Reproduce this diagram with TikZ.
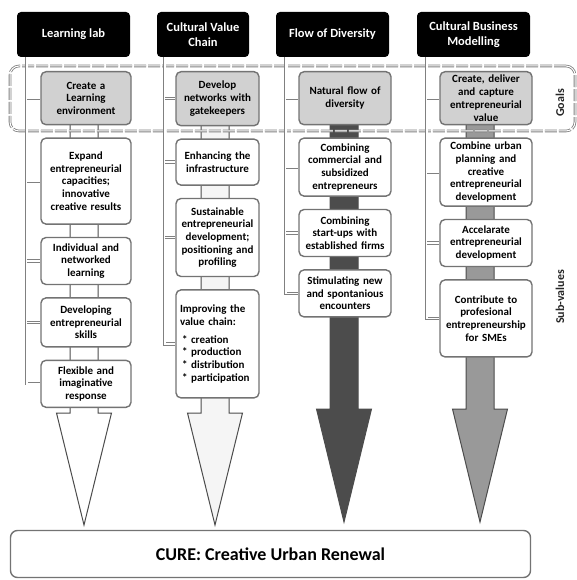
\documentclass[tikz,border=0pt]{standalone}
\usepackage{fontspec}
\setmainfont{Carlito}
\usetikzlibrary{positioning}

\begin{document}
\begin{tikzpicture}[
  x=1pt, y=1pt, node distance=12pt,
  font=\fontsize{11}{12.7}\selectfont\bfseries,
  header/.style ={rectangle, rounded corners=4pt, fill=black, text=white, align=center,
                  minimum height=45pt, font=\fontsize{12.5}{14.5}\selectfont\bfseries},
  goalbox/.style={rectangle, rounded corners=5pt, draw=black!55, line width=1.4pt, fill=black!18,
                  align=center, inner xsep=2pt, inner ysep=1pt},
  subbox/.style ={goalbox, fill=white},
  colA/.style={text width=86pt}, colB/.style={text width=79pt}, colC/.style={text width=88pt},
  spine/.style  ={draw=black!50, double=white, double distance=1.4pt, line width=0.9pt},
  frame/.style  ={rectangle, rounded corners=9pt, draw=black!50, double=white, double distance=1pt,
                  line width=0.8pt, dash pattern=on 12pt off 2pt},
  flow/.style   ={draw=black!70, line width=1pt, line join=miter},
  side/.style   ={rotate=90, font=\fontsize{12}{14}\selectfont\bfseries, text=black!85},
]
  \useasboundingbox (0,0) rectangle (576,-580);

  % big arrows behind the columns
  \foreach \c/\hy/\ty/\col in {84/413/525/white, 215/413/525/black!4,
                               344/409/522/black!70, 480/409/522/black!40}
    \draw[flow, fill=\col] (\c-14,-120) -- (\c-14,-\hy) -- (\c-27.5,-\hy) -- (\c,-\ty)
                          -- (\c+27.5,-\hy) -- (\c+14,-\hy) -- (\c+14,-120) -- cycle;

  \node[frame, minimum width=565pt, minimum height=65pt] (goals) at (292.5,-98.5) {};
  \node[side] (lgoals) at (560,-103) {Goals};
  \node[side] (lsub)   at (560,-297) {Sub-values};

  % headers
  \node[header, minimum width=113pt] (h1) at (73.5,-34.5)  {Learning lab};
  \node[header, minimum width=92pt]  (h2) at (203,-34.5)   {Cultural Value\\Chain};
  \node[header, minimum width=113pt] (h3) at (332.5,-34.5) {Flow of Diversity};
  \node[header, minimum width=113pt] (h4) at (473.5,-34.5) {Cultural Business\\Modelling};

  % column 1
  \node[goalbox, colA, minimum height=53pt, anchor=north] (g1) at (86,-71) {Create a\\Learning\\environment};
  \node[subbox, colA, minimum height=86pt, below=of g1]  (b11) {Expand\\entrepreneurial\\capacities;\\innovative\\creative results};
  \node[subbox, colA, minimum height=47pt, below=of b11] (b12) {Individual and\\networked\\learning};
  \node[subbox, colA, minimum height=49pt, below=of b12] (b13) {Developing\\entrepreneurial\\skills};
  \node[subbox, colA, minimum height=47pt, below=of b13] (b14) {Flexible and\\imaginative\\response};

  % column 2
  \node[goalbox, colB, minimum height=54pt, anchor=north] (g2) at (217.5,-71) {Develop\\networks with\\gatekeepers};
  \node[subbox, colB, minimum height=46pt, below=of g2]  (b21) {Enhancing the\\infrastructure};
  \node[subbox, colB, minimum height=78pt, below=of b21] (b22) {Sustainable\\entrepreneurial\\development;\\positioning and\\profiling};
  \node[subbox, colB, minimum height=108pt, below=of b22, align=left, inner xsep=4pt, text width=75pt] (b23)
       {Improving the\\value chain:\\[5pt]\hspace*{2pt}* creation\\\hspace*{2pt}* production\\\hspace*{2pt}* distribution\\\hspace*{2pt}* participation};

  % column 3
  \node[goalbox, colC, minimum height=53pt, anchor=north] (g3) at (345,-71) {Natural flow of\\diversity};
  \node[subbox, colC, minimum height=58pt, below=of g3]  (b31) {Combining\\commercial and\\subsidized\\entrepreneurs};
  \node[subbox, colC, minimum height=47pt, below=of b31] (b32) {Combining\\start-ups with\\established firms};
  \node[subbox, colC, minimum height=47pt, below=of b32] (b33) {Stimulating new\\and spontanious\\encounters};

  % column 4
  \node[goalbox, colC, minimum height=53pt, anchor=north] (g4) at (486,-71) {Create, deliver\\and capture\\entrepreneurial\\value};
  \node[subbox, colC, minimum height=68pt, below=of g4]  (b41) {Combine urban\\planning and\\creative\\entrepreneurial\\development};
  \node[subbox, colC, minimum height=47pt, below=of b41] (b42) {Accelarate\\entrepreneurial\\development};
  \node[subbox, colC, minimum height=77pt, below=of b42] (b43) {Contribute to\\profesional\\entrepreneurship\\for SMEs};

  % spines with ticks
  \coordinate (s1) at ([xshift=10pt]h1.south west);
  \coordinate (s2) at ([xshift=8pt]h2.south west);
  \coordinate (s3) at ([xshift=10pt]h3.south west);
  \coordinate (s4) at ([xshift=10pt]h4.south west);
  \draw[spine] (s1) |- (b14.west);
  \draw[spine] (s2) |- (b23.west);
  \draw[spine] (s3) |- (b33.west);
  \draw[spine] (s4) |- (b43.west);
  \foreach \b in {g1,b11,b12,b13} \draw[spine] (s1 |- \b.west) -- (\b.west);
  \foreach \b in {g2,b21,b22}     \draw[spine] (s2 |- \b.west) -- (\b.west);
  \foreach \b in {g3,b31,b32}     \draw[spine] (s3 |- \b.west) -- (\b.west);
  \foreach \b in {g4,b41,b42}     \draw[spine] (s4 |- \b.west) -- (\b.west);

  % result
  \node[subbox, minimum width=520pt, minimum height=47pt, rounded corners=7pt,
        font=\fontsize{18}{21}\selectfont\bfseries] (cure) at (270.5,-554) {CURE: Creative Urban Renewal};
\end{tikzpicture}
\end{document}
